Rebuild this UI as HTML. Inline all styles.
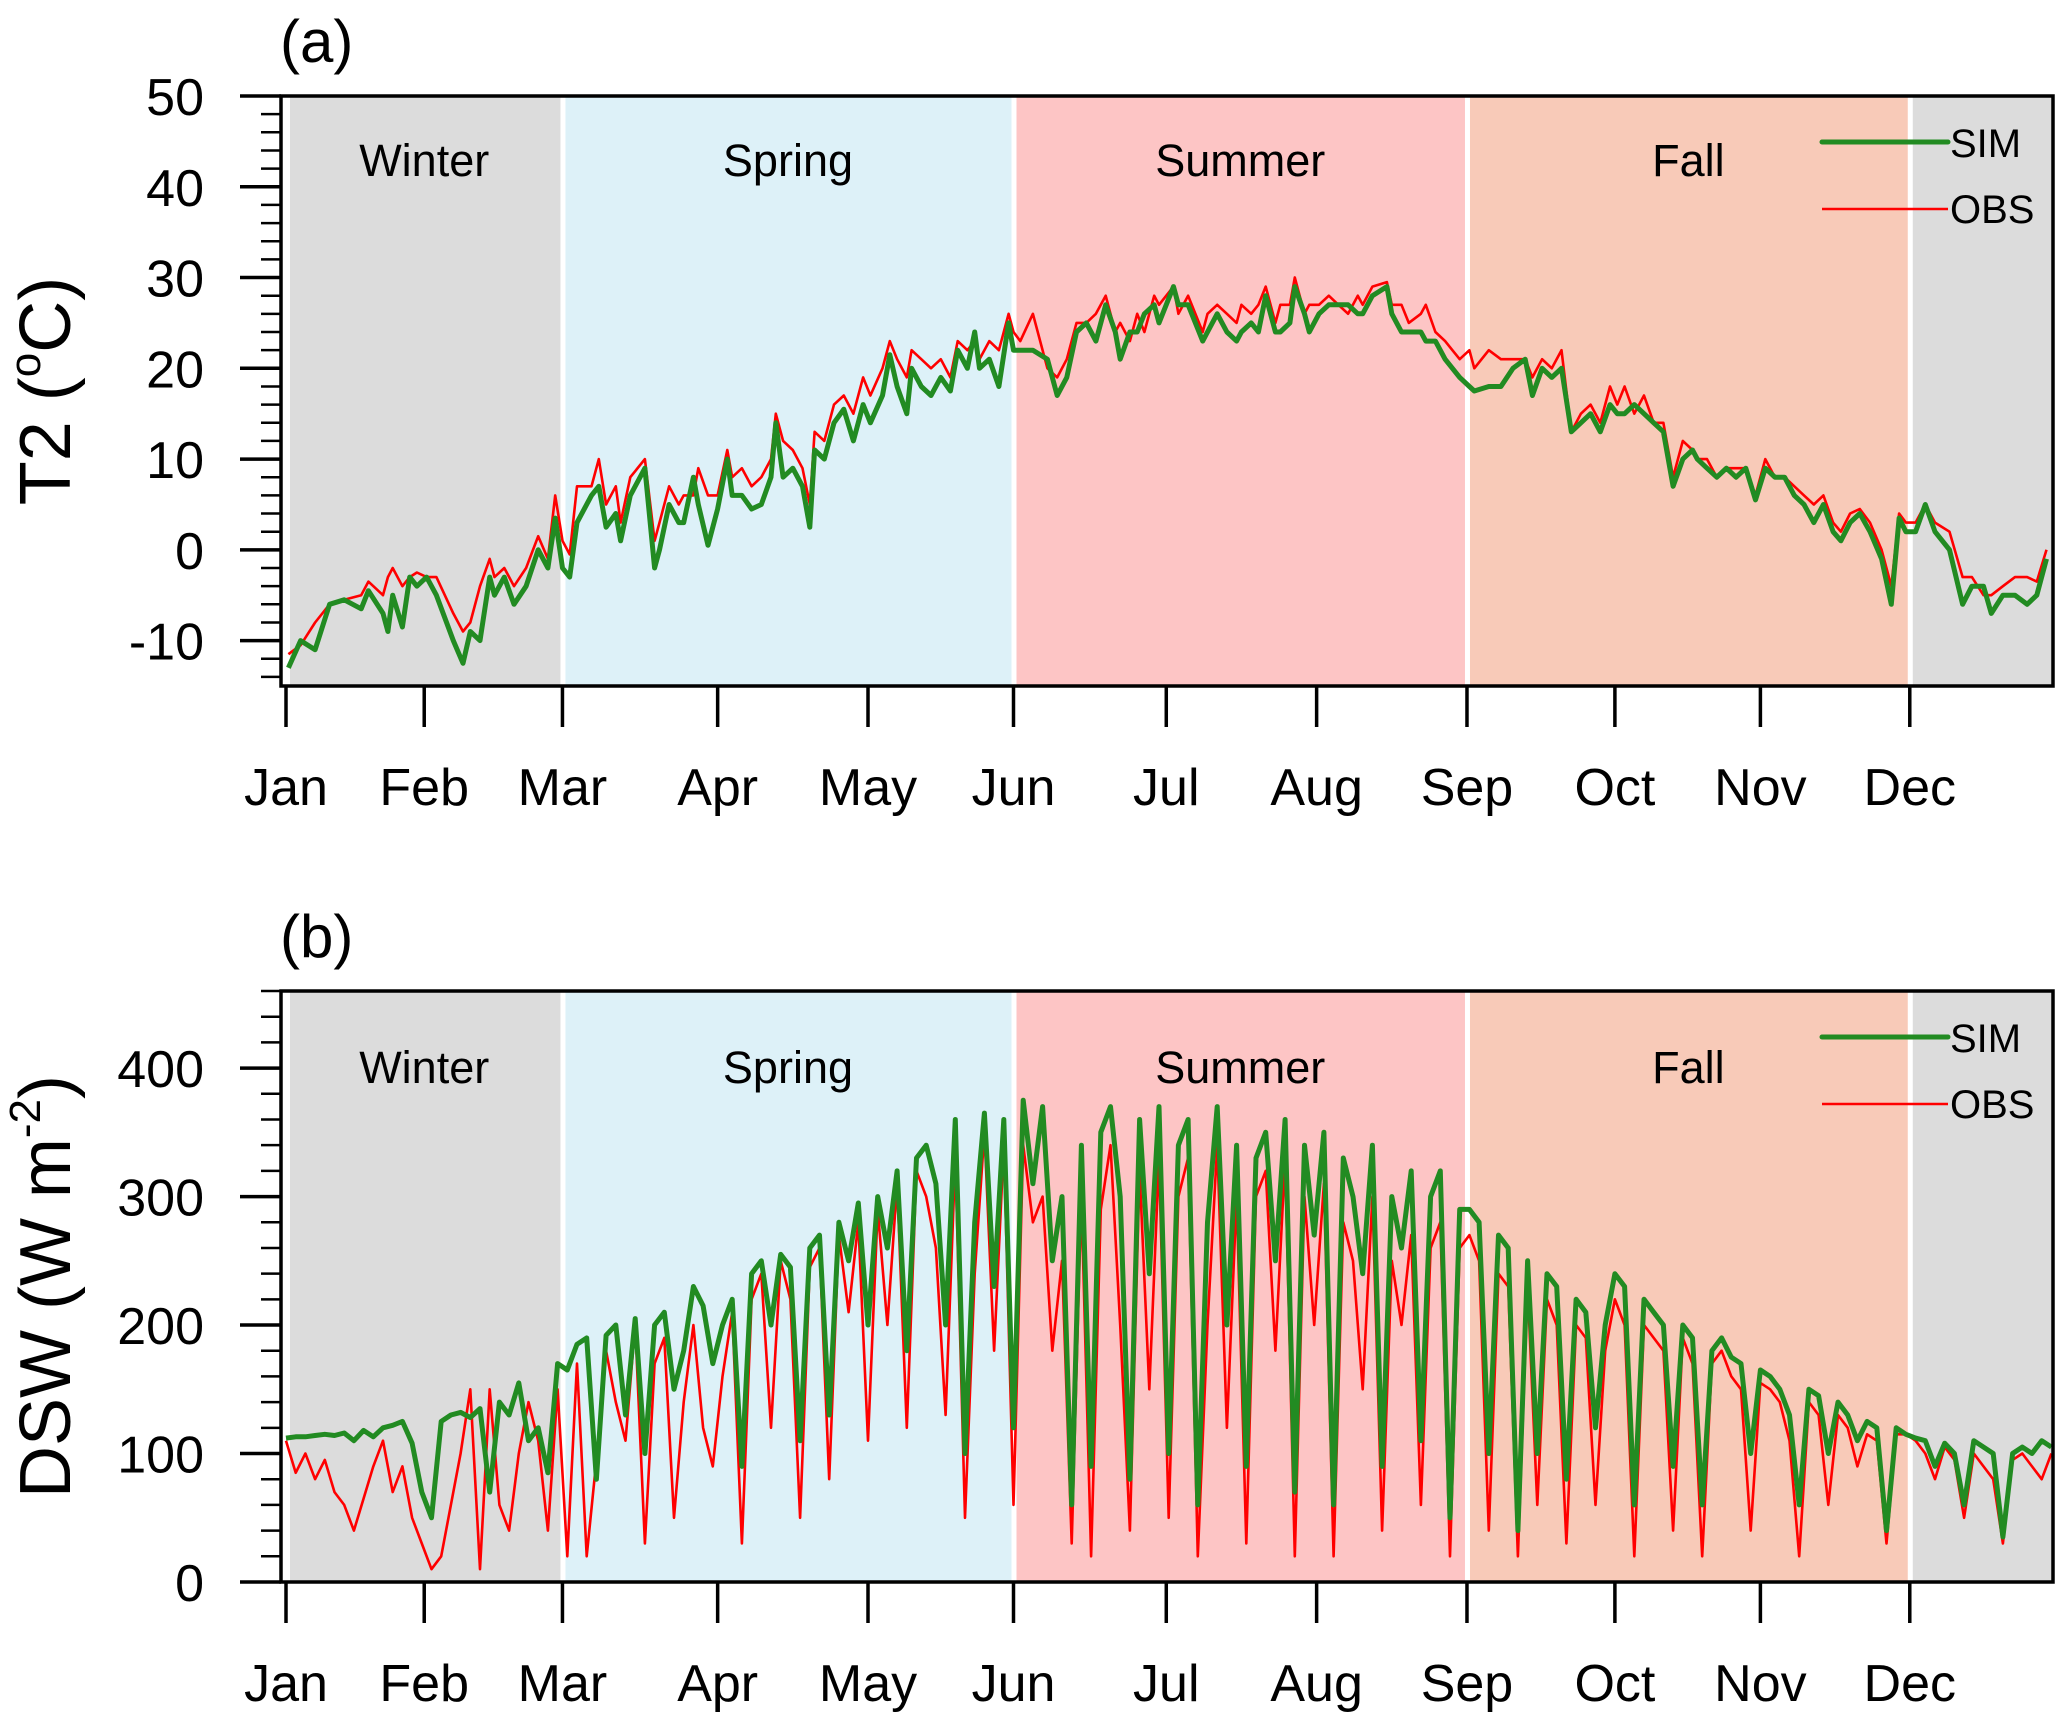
<!DOCTYPE html>
<html><head><meta charset="utf-8"><style>
html,body{margin:0;padding:0;background:#fff;}
svg{display:block;font-family:"Liberation Sans",Arial,sans-serif;}
</style></head><body>
<svg id="chart" width="2067" height="1720" viewBox="0 0 2067 1720" xmlns="http://www.w3.org/2000/svg"></svg>
<script>
const monthLabels=["Jan","Feb","Mar","Apr","May","Jun","Jul","Aug","Sep","Oct","Nov","Dec"];
const monthDays=[0,28.5,57,89,120,150,181.5,212.5,243.5,274,304,334.8];
const seasonNames=["Winter","Spring","Summer","Fall","Winter"];
const seasonStart=[0,57,150,243.5,334.8];
const seasonEnd=[57,150,243.5,334.8,366];
const seasonLabelShow=[true,true,true,true,false];
const t2Ticks=[-10,0,10,20,30,40,50];
const dswTicks=[0,100,200,300,400];

const t2Days=[0.5,3,6,9,12,15.5,17,20,21,22,24,25.5,27,29,31,34.5,36.5,38,40,42,43,45,47,49.5,52,54,55.5,57,58.5,60,63,64.5,66,68,69,71,74,76,77,79,81,82,84,85,87,89,91,92,94,96,98,100,101,102.5,104.5,106.5,108,109,111,113,115,117,119,120.5,123,124.5,126,128,129,131,133,135,137,138.5,140.5,142,143,145,147,149,150,
151.4,154,157,159,161,163,165,167,169,171,172,174,175.5,177,179,180,183,184,186,189,190,192,194,196,197,199,200.5,202,204,205,207,208,210,211,213,215,217,219,221,222,224,227,228,230,231.5,234,235,237,239,240.5,242,244,
245,248,250.5,253,255.5,257,259,261,263,265,267,269,271,273,274.5,276,278,280,282,284,286,288,290,291,293,295,297,299,301,303,305,307,309,311,313,315,317,319,320.6,322.5,324.5,326.6,329,331,332.6,334,
336,338,340,343,345.7,347.6,350,351.6,354,356.5,359,361,363];
const t2Sim=[-13,-10,-11,-6,-5.5,-6.5,-4.5,-7,-9,-5,-8.5,-3,-4,-3,-5,-10,-12.5,-9,-10,-3,-5,-3,-6,-4,0,-2,3.5,-2,-3,3,6,7,2.5,4,1,6,9,-2,0,5,3,3,8,5,0.5,4.5,10,6,6,4.5,5,8,14,8,9,7,2.5,11,10,14,15.5,12,16,14,17,21.5,18,15,20,18,17,19,17.5,22,20,24,20,21,18,25,22,
22,22,21,17,19,24,25,23,27,24,21,24,24,26,27,25,29,27,27,23,24,26,24,23,24,25,24,28,24,24,25,29,26,24,26,27,27,27,26,26,28,29,26,24,24,24,23,23,21,20,19,18,
17.5,18,18,20,21,17,20,19,20,13,14,15,13,16,15,15,16,15,14,13,7,10,11,10,9,8,9,8,9,5.5,9,8,8,6,5,3,5,2,1,3,4,2,-1,-6,3.5,2,
2,5,2,0,-6,-4,-4,-7,-5,-5,-6,-5,-1];
const t2Obs=[-11.5,-10.5,-8,-6,-5.5,-5,-3.5,-5,-3,-2,-4,-3,-2.5,-3,-3,-7,-9,-8,-4,-1,-3,-2,-4,-2,1.5,-1,6,1,-0.5,7,7,10,5,7,3,8,10,1,3,7,5,6,6,9,6,6,11,8,9,7,8,10,15,12,11,9,5,13,12,16,17,15,19,17,20,23,21,19,22,21,20,21,19,23,22,23,21,23,22,26,24,
23,26,20,19,21,25,25,26,28,24,25,23,26,24,28,27,29,26,28,24,26,27,26,25,27,26,27,29,25,27,27,30,26,27,27,28,27,26,28,27,29,29.5,27,27,25,26,27,24,23,22,21,22,
20,22,21,21,21,19,21,20,22,13,15,16,14,18,16,18,15,17,14,14,8,12,11,10,10,8,9,9,9,6,10,8,8,7,6,5,6,3,2,4,4.5,3,0,-4,4,3,
3,5,3,2,-3,-3,-5,-5,-4,-3,-3,-3.5,0];

/* DSW sampled every 2 days starting Jan 1 */
const dswSim=[112,113,113,114,115,114,116,110,118,113,120,122,125,108,70,50,
125,130,132,128,135,70,140,130,155,110,120,85,170,165,
185,190,80,192,200,130,205,100,200,210,150,180,230,215,170,200,
220,90,240,250,200,255,245,110,260,270,130,280,250,295,200,
300,260,320,180,330,340,310,200,360,100,280,365,230,360,120,
375,310,370,250,300,60,340,90,350,370,300,80,360,240,370,
100,340,360,60,280,370,200,340,90,330,350,250,360,70,340,270,
350,60,330,300,240,340,90,300,260,320,110,300,320,50,290,
290,280,100,270,260,40,250,100,240,230,80,220,210,120,200,
240,230,60,220,210,200,90,200,190,60,180,190,175,170,100,165,
160,150,130,60,150,145,100,140,130,110,125,120,40,120,115,
112,110,90,108,100,60,110,105,100,35,100,105,100,110,105];
const dswObs=[110,85,100,80,95,70,60,40,65,90,110,70,90,50,30,10,
20,60,100,150,10,150,60,40,100,140,110,40,150,20,
170,20,95,180,140,110,200,30,170,190,50,140,200,120,90,160,
210,30,220,240,120,250,220,50,245,260,80,270,210,280,110,
290,200,310,120,320,300,260,130,330,50,240,350,180,340,60,
340,280,300,180,250,30,300,20,290,340,200,40,320,150,330,
50,300,330,20,200,340,120,300,30,300,320,180,330,20,300,200,
310,20,280,250,150,300,40,250,200,270,60,260,280,20,260,
270,250,40,240,230,20,230,60,220,200,30,200,190,60,180,
220,200,20,200,190,180,40,190,170,20,170,180,160,150,40,155,
150,140,110,20,140,130,60,130,120,90,115,110,30,115,115,
110,100,80,105,95,50,100,90,80,30,95,100,90,80,100];
const dswStep=2;

const NS="http://www.w3.org/2000/svg";
const svg=document.getElementById('chart');
function mk(tag,attrs,parent){const e=document.createElementNS(NS,tag);for(const k in attrs)e.setAttribute(k,attrs[k]);(parent||svg).appendChild(e);return e;}
const L=281,R=2053;
function xs(d){return 286+d*4.85;}

function panel(cfg){
  const g=mk('g',{});
  
  
  const ys=v=>cfg.bottom-(v-cfg.ymin)*(cfg.bottom-cfg.top)/(cfg.ymax-cfg.ymin);
  const colors=["#dcdcdc","#ddf1f8","#fdc5c5","#f8cab8","#dcdcdc"];
  for(let i=0;i<seasonNames.length;i++){
    const x0=Math.max(L+9,xs(seasonStart[i])+3), x1=Math.min(R,xs(seasonEnd[i])-2);
    const r=mk('rect',{x:x0,y:cfg.top,width:x1-x0,height:cfg.bottom-cfg.top,fill:colors[i]},g);
    
    
    if(seasonLabelShow[i]){
      const t=mk('text',{x:(xs(seasonStart[i])+xs(seasonEnd[i]))/2,y:cfg.top+cfg.labelOff,'font-size':45,'text-anchor':'middle',fill:'#000'},g);
      t.textContent=seasonNames[i];
      
      
    }
  }
  const cid='clip'+cfg.name;
  const cp=mk('clipPath',{id:cid},g);mk('rect',{x:L,y:cfg.top,width:R-L,height:cfg.bottom-cfg.top},cp);
  function line(days,vals,color,w,name){
    let d='';
    for(let i=0;i<vals.length;i++){d+=(i?'L':'M')+xs(days(i)).toFixed(1)+','+ys(vals[i]).toFixed(1);}
    const p=mk('path',{d:d,fill:'none',stroke:color,'stroke-width':w,'stroke-linejoin':'round','clip-path':'url(#'+cid+')'},g);
    
    
  }
  line(cfg.days,cfg.obs,'#ff0000',2.6,'obs-line');
  line(cfg.days,cfg.sim,'#228b22',5,'sim-line');
  const f=mk('rect',{x:L,y:cfg.top,width:R-L,height:cfg.bottom-cfg.top,fill:'none',stroke:'#000','stroke-width':3.5},g);
  
  
  for(let v=cfg.ymin+(cfg.minorStart||0);v<=cfg.ymax+1e-6;v+=cfg.minor){
    const major=cfg.ticks.indexOf(Math.round(v))>=0;
    mk('line',{x1:major?240:261,x2:L,y1:ys(v),y2:ys(v),stroke:'#000','stroke-width':major?3.5:2.5},g);
  }
  cfg.ticks.forEach(v=>{
    const t=mk('text',{x:204,y:ys(v)+19,'font-size':52,'text-anchor':'end'},g);
    t.textContent=v;
    
    
  });
  monthDays.forEach((d,i)=>{
    mk('line',{x1:xs(d),x2:xs(d),y1:cfg.bottom,y2:cfg.bottom+41,stroke:'#000','stroke-width':3.5},g);
    const t=mk('text',{x:xs(d),y:cfg.bottom+119,'font-size':52,'text-anchor':'middle'},g);
    t.textContent=monthLabels[i];
    
    
  });
  const lg=mk('g',{},g);
  
  
  mk('line',{x1:1822,x2:1948,y1:cfg.top+46,y2:cfg.top+46,stroke:'#228b22','stroke-width':5,'stroke-linecap':'round'},lg);
  mk('line',{x1:1822,x2:1948,y1:cfg.top+113,y2:cfg.top+113,stroke:'#ff0000','stroke-width':2.6},lg);
  const s=mk('text',{x:1950,y:cfg.top+61,'font-size':40},lg);s.textContent='SIM';
  
  
  const o=mk('text',{x:1950,y:cfg.top+127,'font-size':40},lg);o.textContent='OBS';
  
  
  const pl=mk('text',{x:280,y:cfg.top-34,'font-size':60},g);pl.textContent=cfg.label;
  
  
  const cy=(cfg.top+cfg.bottom)/2;
  const yt=mk('text',{x:0,y:0,'font-size':72,'text-anchor':'middle',transform:'translate(70,'+cy+') rotate(-90)'},g);
  
  
  yt.appendChild(document.createTextNode(cfg.title[0]));
  const sup=mk('tspan',{'font-size':44,dy:-30},yt);sup.textContent=cfg.title[1];
  const rest=mk('tspan',{'font-size':72,dy:30},yt);rest.textContent=cfg.title[2];
}

panel({name:'panel-a-t2',top:96,bottom:686,ymin:-15,ymax:50,ticks:t2Ticks,minor:2,minorStart:1,labelOff:80,
  days:i=>t2Days[i],sim:t2Sim,obs:t2Obs,label:'(a)',title:['T2 (','o','C)']});
panel({name:'panel-b-dsw',top:991,bottom:1582,ymin:0,ymax:460,ticks:dswTicks,minor:20,minorStart:0,labelOff:92,
  days:i=>i*dswStep,sim:dswSim,obs:dswObs,label:'(b)',title:['DSW (W m','-2',')']});
</script>
</body></html>
